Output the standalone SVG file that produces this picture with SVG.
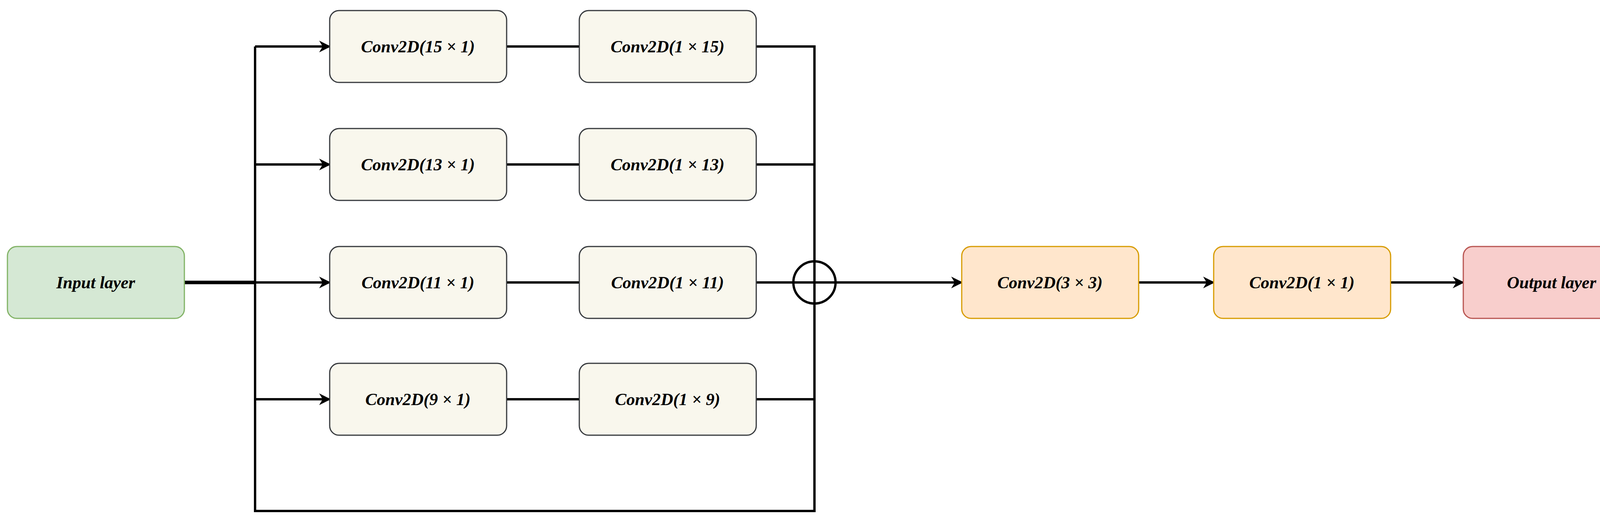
<svg xmlns="http://www.w3.org/2000/svg" width="4229" height="1349" viewBox="0 0 4229 1349">
<style>
.n{stroke-width:3}
.c{fill:#f9f7ed;stroke:#36393d}
.t{font-family:"Liberation Serif",serif;font-style:italic;font-weight:bold;font-size:44px;text-anchor:middle;dominant-baseline:central;fill:#000}
.l{fill:none;stroke:#000;stroke-width:6}
</style>
<defs><marker id="a" viewBox="0 0 10 10" refX="9" refY="5" markerWidth="5" markerHeight="5" orient="auto" markerUnits="strokeWidth"><path d="M0,0 L10,5 L0,10 L3,5 z" fill="#000"/></marker></defs>
<rect width="4229" height="1349" fill="#fff"/>
<g id="connectors">
<path class="l" d="M472,723 H653" style="stroke-width:9"/>
<path class="l" d="M653,119 V1308 H2085 V119 H1936"/>
<path class="l" d="M653,119 H844" marker-end="url(#a)"/>
<path class="l" d="M653,421 H844" marker-end="url(#a)"/>
<path class="l" d="M653,723 H844" marker-end="url(#a)"/>
<path class="l" d="M653,1022 H844" marker-end="url(#a)"/>
<path class="l" d="M1297,119 H1483 M1297,421 H1483 M1297,723 H1483 M1297,1022 H1483"/>
<path class="l" d="M1936,421 H2085 M1936,723 H2031 M1936,1022 H2085"/>
<path class="l" d="M2085,723 H2462" marker-end="url(#a)"/>
<path class="l" d="M2915,723 H3107" marker-end="url(#a)"/>
<path class="l" d="M3560,723 H3746" marker-end="url(#a)"/>
</g>
<g id="sum"><circle cx="2085" cy="723" r="54" fill="none" stroke="#000" stroke-width="6"/><path class="l" d="M2031,723 H2139 M2085,669 V777"/></g>
<g id="input"><rect class="n" x="19" y="631" width="453" height="184" rx="24" fill="#d5e8d4" stroke="#82b366"/><text class="t" x="245" y="723">Input layer</text></g>
<g id="c15x1"><rect class="n c" x="844" y="27" width="453" height="184" rx="24"/><text class="t" x="1070" y="119">Conv2D(15 × 1)</text></g>
<g id="c1x15"><rect class="n c" x="1483" y="27" width="453" height="184" rx="24"/><text class="t" x="1709" y="119">Conv2D(1 × 15)</text></g>
<g id="c13x1"><rect class="n c" x="844" y="329" width="453" height="184" rx="24"/><text class="t" x="1070" y="421">Conv2D(13 × 1)</text></g>
<g id="c1x13"><rect class="n c" x="1483" y="329" width="453" height="184" rx="24"/><text class="t" x="1709" y="421">Conv2D(1 × 13)</text></g>
<g id="c11x1"><rect class="n c" x="844" y="631" width="453" height="184" rx="24"/><text class="t" x="1070" y="723">Conv2D(11 × 1)</text></g>
<g id="c1x11"><rect class="n c" x="1483" y="631" width="453" height="184" rx="24"/><text class="t" x="1709" y="723">Conv2D(1 × 11)</text></g>
<g id="c9x1"><rect class="n c" x="844" y="930" width="453" height="184" rx="24"/><text class="t" x="1070" y="1022">Conv2D(9 × 1)</text></g>
<g id="c1x9"><rect class="n c" x="1483" y="930" width="453" height="184" rx="24"/><text class="t" x="1709" y="1022">Conv2D(1 × 9)</text></g>
<g id="c3x3"><rect class="n" x="2462" y="631" width="453" height="184" rx="24" fill="#ffe6cc" stroke="#d79b00"/><text class="t" x="2688" y="723">Conv2D(3 × 3)</text></g>
<g id="c1x1"><rect class="n" x="3107" y="631" width="453" height="184" rx="24" fill="#ffe6cc" stroke="#d79b00"/><text class="t" x="3333" y="723">Conv2D(1 × 1)</text></g>
<g id="output"><rect class="n" x="3746" y="631" width="453" height="184" rx="24" fill="#f8cecc" stroke="#b85450"/><text class="t" x="3972" y="723">Output layer</text></g>
</svg>
